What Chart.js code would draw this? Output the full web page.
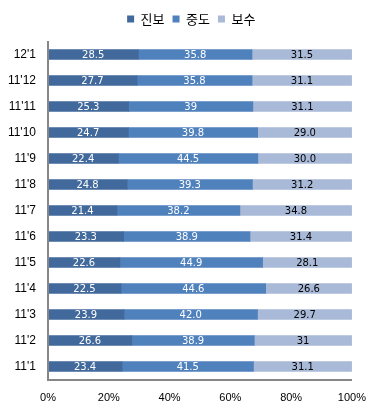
<!DOCTYPE html>
<html><head><meta charset="utf-8">
<script src="https://cdn.jsdelivr.net/npm/chart.js@4/dist/chart.umd.min.js"></script>
<style>html,body{margin:0;padding:0;background:#fff;overflow:hidden}#wrap{width:378px;height:411px;position:relative}</style>
</head><body><div id="wrap"><canvas id="c"></canvas></div>
<script>
const categories = ["12'1","11'12","11'11","11'10","11'9","11'8","11'7","11'6","11'5","11'4","11'3","11'2","11'1"];
const seriesNames = ["진보","중도","보수"];
const progressive = ["28.5","27.7","25.3","24.7","22.4","24.8","21.4","23.3","22.6","22.5","23.9","26.6","23.4"];
const moderate = ["35.8","35.8","39","39.8","44.5","39.3","38.2","38.9","44.9","44.6","42.0","38.9","41.5"];
const conservative = ["31.5","31.1","31.1","29.0","30.0","31.2","34.8","31.4","28.1","26.6","29.7","31","31.1"];
const xTickValues = [0,20,40,60,80,100];

const colors = ['#41699B','#4F81BD','#A9B9D8'];
const labelColors = ['#FFFFFF','#FFFFFF','#000000'];
const raw = [progressive, moderate, conservative];
const totals = categories.map((_, i) => raw.reduce((s, arr) => s + parseFloat(arr[i]), 0));

const datasets = raw.map((arr, k) => ({
  label: seriesNames[k],
  data: arr.map((v, i) => parseFloat(v) / totals[i] * 100),
  rawLabels: arr,
  backgroundColor: colors[k],
  borderWidth: 0,
  barThickness: 10
}));

const barLabels = {
  id: 'barLabels',
  afterDatasetsDraw(chart) {
    const ctx = chart.ctx;
    ctx.save();
    ctx.font = '10px "DejaVu Sans"';
    ctx.textAlign = 'center';
    ctx.textBaseline = 'middle';
    chart.data.datasets.forEach((ds, k) => {
      const meta = chart.getDatasetMeta(k);
      meta.data.forEach((el, i) => {
        ctx.fillStyle = labelColors[k];
        ctx.fillText(ds.rawLabels[i], (el.x + el.base) / 2, el.y + 0.5);
      });
    });
    ctx.restore();
  }
};

const legendSpace = {
  id: 'legendSpace',
  beforeLayout(chart) {
    const lg = chart.legend;
    if (lg && !lg._wrapped) {
      const f = lg.fit;
      lg.fit = function () { f.call(this); this.height += 6; };
      lg._wrapped = true;
    }
  },
  afterLayout(chart) {
    const lg = chart.legend;
    if (lg) { lg.left += 15; lg.right += 15; }
  }
};

const hiddenGrid = { display: true, color: 'rgba(0,0,0,0)', lineWidth: 0, drawTicks: false };

new Chart(document.getElementById('c'), {
  type: 'bar',
  data: { labels: categories, datasets },
  plugins: [barLabels, legendSpace],
  options: {
    indexAxis: 'y',
    responsive: true,
    maintainAspectRatio: false,
    animation: false,
    layout: { padding: { top: 4.5, right: 25.5, bottom: 0, left: 0 } },
    plugins: {
      legend: {
        display: true,
        position: 'top',
        labels: {
          boxWidth: 7, boxHeight: 7, padding: 8,
          color: '#000',
          font: { family: '"Noto Sans CJK KR"', size: 13 }
        }
      },
      tooltip: { enabled: false }
    },
    scales: {
      x: {
        stacked: true,
        min: 0, max: 100,
        afterBuildTicks(scale) { scale.ticks = xTickValues.map(v => ({ value: v })); },
        afterFit(scale) { scale.height = 31.5; },
        grid: hiddenGrid,
        border: { display: true, color: '#868686', width: 2, z: 1 },
        ticks: {
          padding: 12,
          color: '#000',
          font: { family: '"Liberation Sans"', size: 11 },
          callback: v => v + '%'
        }
      },
      y: {
        stacked: true,
        afterFit(scale) { scale.width = 48; },
        grid: hiddenGrid,
        border: { display: true, color: '#868686', width: 2, z: 1 },
        ticks: {
          padding: 12,
          color: '#000',
          font: { family: '"Liberation Sans"', size: 12 }
        }
      }
    }
  }
});
</script>
</body></html>
